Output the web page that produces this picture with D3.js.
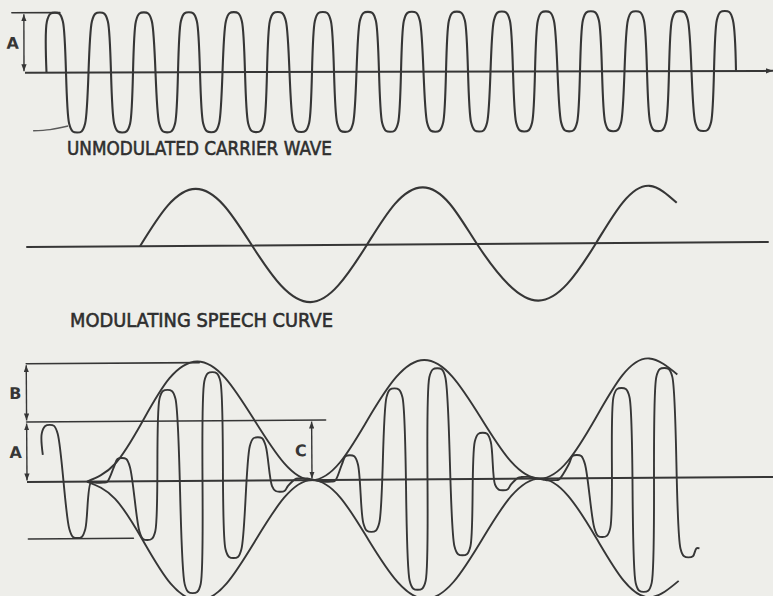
<!DOCTYPE html>
<html>
<head>
<meta charset="utf-8">
<script src="https://cdn.jsdelivr.net/npm/d3@7"></script>
<style>
  html, body { margin: 0; padding: 0; background: #eeeeea; }
  svg { display: block; }
</style>
</head>
<body>
<div id="chart"></div>
<script>
// modulation diagram — time in drawing units, amplitude in units of A

// ---------- unmodulated carrier (crests / troughs) ----------
const carrierTimes = [55, 77, 100, 122, 144, 167, 189, 211, 234, 256, 278, 301, 323, 345, 368, 390,
                      412, 435, 457, 479, 502, 524, 546, 569, 591, 613, 636, 658, 680, 703, 725];
const carrierAmps  = [1, -1, 1, -1, 1, -1, 1, -1, 1, -1, 1, -1, 1, -1, 1, -1,
                      1, -1, 1, -1, 1, -1, 1, -1, 1, -1, 1, -1, 1, -1, 1];
const carrierStart = [46.5, 0];
const carrierEnd   = [736, 0];

// ---------- modulating speech curve ----------
const speechTimes = [140, 168, 196, 224, 252, 281, 310, 338, 367, 395, 423, 450, 477, 508, 538, 567, 596, 623, 650, 677];
const speechAmps  = [0, 0.71, 1, 0.71, 0, -0.71, -1, -0.71, 0, 0.71, 1, 0.71, 0, -0.71, -1, -0.71, 0, 0.71, 1, 0.7];

// ---------- modulated carrier (crests / troughs) ----------
const modTimes = [50, 77, 99, 122, 147, 168, 192, 213, 233, 258, 280, 303, 327, 350, 371, 395,
                  417, 438, 462, 483, 503, 526, 551, 577, 602, 622, 643, 665, 688];
const modAmps  = [0.95, -0.94, -0.02, 0.39, -0.98, 1.52, -1.87, 1.81, -1.29, 0.72, -0.19, 0.03, -0.03, 0.41, -0.87, 1.52,
                  -1.84, 1.85, -1.27, 0.77, -0.19, 0.03, -0.03, 0.39, -0.98, 1.5, -1.9, 1.83, -1.33];
const modStart = [43, 0.45];
const modEnd   = [699, -1.18];

// envelope (upper, mirrored for lower)
const envTimes = [87, 115, 143, 170, 198, 226, 255, 284, 312, 340, 368, 397, 425, 453, 482, 511, 540, 568, 596, 623, 650, 678];
const envAmps  = [0, 0.29, 1.0, 1.71, 1.99, 1.71, 1.0, 0.29, 0, 0.29, 1.0, 1.71, 1.99, 1.71, 1.0, 0.29, 0, 0.29, 1.0, 1.71, 1.99, 1.72];

// axes and reference lines
const axisTop = [25, 773];
const axisMid = [27, 768];
const axisBot = [27, 773];
const refTop  = [{ t0: 12, t1: 60, a: 1 }];
const refBot  = [{ t0: 27, t1: 200, a: 1.97 }, { t0: 27, t1: 326, a: 1 }, { t0: 28, t1: 133, a: -0.95 }];
const dimTop  = [{ t: 24, a0: 1, a1: 0, label: 'A' }];
const dimBot  = [{ t: 27, a0: 1.97, a1: 1, label: 'B' }, { t: 27, a0: 1, a1: 0, label: 'A' }, { t: 312, a0: 1, a1: 0, label: 'C' }];
const leaderTop = [[33, -0.97], [50, -0.95], [68, -0.89]];

const titles = ['UNMODULATED CARRIER WAVE', 'MODULATING SPEECH CURVE'];

// ==============================================
const W = 773, H = 596;
const INK = '#363636';
const CAP_HALF = 8, CAP_DROP = 9;

const svg = d3.select('#chart').append('svg')
  .attr('width', W).attr('height', H)
  .attr('viewBox', `0 0 ${W} ${H}`);

svg.append('rect').attr('width', W).attr('height', H).attr('fill', '#eeeeea');

const defs = svg.append('defs');
defs.append('marker')
  .attr('id', 'ah')
  .attr('viewBox', '0 0 8 6')
  .attr('refX', 8).attr('refY', 3)
  .attr('markerWidth', 7).attr('markerHeight', 5.5)
  .attr('markerUnits', 'userSpaceOnUse')
  .attr('orient', 'auto-start-reverse')
  .append('path').attr('d', 'M0,0 L8,3 L0,6 Z').attr('fill', INK);

const x = d3.scaleLinear().domain([0, 773]).range([0, W]);
const yTop = d3.scaleLinear().domain([-1, 1]).range([131.8, 11.8]);
const yMid = d3.scaleLinear().domain([-1, 1]).range([301.6, 187.6]);
const yBot = d3.scaleLinear().domain([-2, 2]).range([599.6, 359.6]);

const smooth = d3.line().x(d => d[0]).y(d => d[1]).curve(d3.curveCatmullRom.alpha(0.5));
const natural = d3.line().x(d => d[0]).y(d => d[1]).curve(d3.curveNatural);

// crest/trough list -> rounded U-shaped wave
function wavePoints(times, amps, start, end, ys) {
  const y0 = ys(0);
  const pts = [[x(start[0]), ys(start[1])]];
  times.forEach((t, i) => {
    const y = ys(amps[i]);
    const s = y < y0 ? 1 : -1;
    const d = Math.min(CAP_DROP, Math.abs(y - y0) * 0.5);
    pts.push(
      [x(t - CAP_HALF), y + s * d],
      [x(t - CAP_HALF * 0.55), y + s * d * 0.12],
      [x(t), y],
      [x(t + CAP_HALF * 0.55), y + s * d * 0.12],
      [x(t + CAP_HALF), y + s * d]
    );
  });
  pts.push([x(end[0]), ys(end[1])]);
  return pts;
}

function hline(g, t0, t1, y, w) {
  g.append('line')
    .attr('x1', x(t0)).attr('x2', x(t1))
    .attr('y1', y).attr('y2', y)
    .attr('stroke', INK).attr('stroke-width', w || 1.6)
    .attr('stroke-linecap', 'round');
}

function dims(g, list, ys) {
  list.forEach(d => {
    g.append('line')
      .attr('x1', x(d.t)).attr('x2', x(d.t))
      .attr('y1', ys(d.a0) + 1.5).attr('y2', ys(d.a1) - 1.5)
      .attr('stroke', INK).attr('stroke-width', 1.4)
      .attr('marker-start', 'url(#ah)').attr('marker-end', 'url(#ah)');
    g.append('text')
      .attr('x', x(d.t) - 5)
      .attr('y', (ys(d.a0) + ys(d.a1)) / 2 + 6)
      .attr('text-anchor', 'end')
      .attr('font-family', "'DejaVu Sans', sans-serif")
      .attr('font-weight', 'bold')
      .attr('font-size', 16)
      .attr('fill', INK)
      .text(d.label);
  });
}

// ---------- top panel ----------
const gTop = svg.append('g').attr('transform', 'rotate(-0.14,386,71.8)');
gTop.append('line')
  .attr('x1', x(axisTop[0])).attr('x2', x(axisTop[1]))
  .attr('y1', yTop(0)).attr('y2', yTop(0))
  .attr('stroke', INK).attr('stroke-width', 2)
  .attr('marker-end', 'url(#ah)');
refTop.forEach(r => hline(gTop, r.t0, r.t1, yTop(r.a)));
dims(gTop, dimTop, yTop);
gTop.append('path')
  .attr('d', smooth(leaderTop.map(p => [x(p[0]), yTop(p[1])])))
  .attr('fill', 'none').attr('stroke', '#5a5a5a').attr('stroke-width', 1.5);
gTop.append('path')
  .attr('d', smooth(wavePoints(carrierTimes, carrierAmps, carrierStart, carrierEnd, yTop)))
  .attr('fill', 'none').attr('stroke', INK).attr('stroke-width', 2.1)
  .attr('stroke-linejoin', 'round');

// ---------- middle panel ----------
const gMid = svg.append('g').attr('transform', 'rotate(-0.38,386,244.6)');
gMid.append('line')
  .attr('x1', x(axisMid[0])).attr('x2', x(axisMid[1]))
  .attr('y1', yMid(0)).attr('y2', yMid(0))
  .attr('stroke', INK).attr('stroke-width', 2).attr('stroke-linecap', 'round');
gMid.append('path')
  .attr('d', natural(speechTimes.map((t, i) => [x(t), yMid(speechAmps[i])])))
  .attr('fill', 'none').attr('stroke', INK).attr('stroke-width', 2.1);

// ---------- bottom panel ----------
const gBot = svg.append('g').attr('transform', 'rotate(-0.38,386,479.6)');
gBot.append('line')
  .attr('x1', x(axisBot[0])).attr('x2', x(axisBot[1]))
  .attr('y1', yBot(0)).attr('y2', yBot(0))
  .attr('stroke', INK).attr('stroke-width', 2);
refBot.forEach(r => hline(gBot, r.t0, r.t1, yBot(r.a)));
dims(gBot, dimBot, yBot);
[1, -1].forEach(sign => {
  gBot.append('path')
    .attr('d', natural(envTimes.map((t, i) => [x(t), yBot(sign * envAmps[i])])))
    .attr('fill', 'none').attr('stroke', INK).attr('stroke-width', 1.9);
});
gBot.append('path')
  .attr('d', smooth(wavePoints(modTimes, modAmps, modStart, modEnd, yBot)))
  .attr('fill', 'none').attr('stroke', INK).attr('stroke-width', 1.9)
  .attr('stroke-linejoin', 'round');

// ---------- titles ----------
const titlePos = [{ x: 67, y: 155, len: 265 }, { x: 70, y: 327, len: 263 }];
titles.forEach((t, i) => {
  svg.append('text')
    .attr('x', titlePos[i].x).attr('y', titlePos[i].y)
    .attr('textLength', titlePos[i].len)
    .attr('lengthAdjust', 'spacingAndGlyphs')
    .attr('font-family', "'DejaVu Sans', sans-serif")
    .attr('font-size', 19)
    .attr('fill', '#2e2e2e')
    .attr('stroke', '#2e2e2e')
    .attr('stroke-width', 0.6)
    .text(t);
});
</script>
</body>
</html>
